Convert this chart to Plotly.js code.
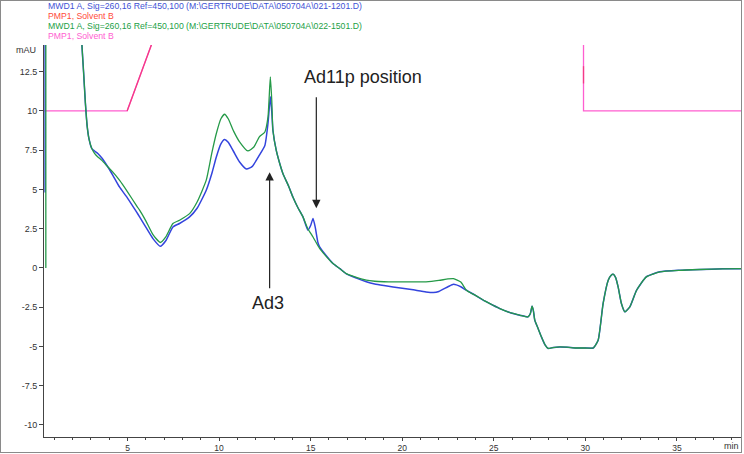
<!DOCTYPE html>
<html>
<head>
<meta charset="utf-8">
<script src="https://cdn.plot.ly/plotly-3.0.1.min.js"></script>
<style>
html,body{margin:0;padding:0;background:#fff;}
#wrap{position:relative;width:744px;height:454px;overflow:hidden;}
#chart{width:744px;height:454px;}
#frame{position:absolute;left:0;top:0;width:740px;height:451px;border:1px solid #8a8a8a;pointer-events:none;}
</style>
</head>
<body>
<div id="wrap"><div id="chart"></div><div id="frame"></div></div>
<script>
// ---- data (minutes, mAU) ----
const blueTime = [0.5,0.5,0.5,0.6,2.4,2.5,2.6,2.7,2.8,2.9,3.05,3.2,3.38,3.6,3.93,4.2,4.56,5.0,5.5,5.66,6.0,6.4,6.79,7.1,7.48,7.84,8.39,8.8,9.3,9.6,9.85,10.1,10.3,10.5,10.8,11.12,11.5,11.8,12.2,12.5,12.67,12.8,12.88,12.94,13.12,13.3,13.49,13.8,14.03,14.3,14.58,14.85,15.0,15.13,15.25,15.4,15.49,15.8,16.22,16.6,16.95,17.5,18.04,18.5,19.0,19.5,20.5,21.3,21.7,22.0,22.5,22.8,23.2,23.5,24.0,24.5,24.96,25.33,25.9,26.42,26.87,27.0,27.09,27.16,27.24,27.4,27.6,27.8,27.97,28.24,28.6,29.0,29.5,30.0,30.43,30.7,30.97,31.25,31.4,31.52,31.65,31.79,31.97,32.16,32.43,32.8,33.33,34.07,35.16,36.3,37.5,38.6];
const blueSignal = [4.8,15,30,30,30,14.5,12.5,10.5,9.0,8.2,7.6,7.45,7.29,7.0,6.43,5.9,5.16,4.45,3.55,3.25,2.6,1.85,1.38,1.75,2.61,2.83,3.25,3.8,4.95,6.0,7.07,7.9,8.18,8.0,7.4,6.75,6.3,6.45,7.18,7.8,9.2,10.9,9.9,8.77,7.5,6.7,6.0,5.2,4.52,3.85,3.25,2.4,2.7,3.15,2.6,1.6,1.34,0.85,0.28,-0.05,-0.38,-0.65,-0.88,-1.02,-1.12,-1.21,-1.38,-1.53,-1.57,-1.5,-1.2,-1.04,-1.2,-1.42,-1.75,-2.1,-2.38,-2.59,-2.85,-3.01,-3.12,-2.9,-2.44,-2.7,-3.33,-3.8,-4.39,-4.9,-5.13,-5.07,-5.03,-5.05,-5.1,-5.1,-5.1,-4.6,-2.27,-0.78,-0.48,-0.4,-0.6,-1.21,-2.27,-2.8,-2.48,-1.42,-0.57,-0.25,-0.15,-0.1,-0.06,-0.05];

const greenTime = [0.54,0.54,0.54,0.6,2.4,2.5,2.6,2.7,2.8,2.9,3.05,3.2,3.38,3.6,3.93,4.2,4.56,5.0,5.5,5.66,6.0,6.4,6.79,7.1,7.48,7.84,8.39,8.8,9.3,9.6,9.85,10.1,10.3,10.5,10.8,11.12,11.57,11.9,12.2,12.5,12.67,12.8,12.88,12.94,13.12,13.3,13.49,13.8,14.03,14.3,14.58,14.85,15.13,15.49,15.8,16.22,16.6,16.95,17.5,18.04,18.5,19.0,19.5,20.5,21.3,22.0,22.5,22.8,23.2,23.5,24.0,24.5,24.96,25.33,25.9,26.42,26.87,27.0,27.09,27.16,27.24,27.4,27.6,27.8,27.97,28.24,28.6,29.0,29.5,30.0,30.43,30.7,30.97,31.25,31.4,31.52,31.65,31.79,31.97,32.16,32.43,32.8,33.33,34.07,35.16,36.3,37.5,38.6];
const greenSignal = [0,15,30,30,30,14.5,12.5,10.5,9.0,8.2,7.6,7.3,7.07,6.85,6.43,6.1,5.59,4.85,3.95,3.68,3.0,2.1,1.62,2.0,2.83,3.04,3.46,4.2,5.59,7.3,8.56,9.5,9.79,9.5,8.7,8.03,7.45,7.7,8.35,8.66,9.6,12.17,10.6,8.77,7.5,6.7,6.0,5.2,4.52,3.85,3.25,2.5,1.97,1.24,0.8,0.28,-0.05,-0.36,-0.6,-0.78,-0.85,-0.88,-0.89,-0.89,-0.89,-0.8,-0.7,-0.68,-0.9,-1.42,-1.75,-2.1,-2.38,-2.59,-2.85,-3.01,-3.12,-2.9,-2.44,-2.7,-3.33,-3.8,-4.39,-4.9,-5.13,-5.07,-5.03,-5.05,-5.1,-5.1,-5.1,-4.6,-2.27,-0.78,-0.48,-0.4,-0.6,-1.21,-2.27,-2.8,-2.48,-1.42,-0.57,-0.25,-0.15,-0.1,-0.06,-0.05];

const pumpTime = [0.45,4.98,6.6,null,29.9,29.9,38.6];
const pumpB = [10,10,15.15,null,15,10,10];
const pumpRedTime = [4.98,6.6,null,29.9,29.9];
const pumpRedB = [10,15.15,null,12.85,11.75];

const legendLines = [
  "MWD1 A, Sig=260,16 Ref=450,100 (M:\\GERTRUDE\\DATA\\050704A\\021-1201.D)",
  "PMP1, Solvent B",
  "MWD1 A, Sig=260,16 Ref=450,100 (M:\\GERTRUDE\\DATA\\050704A\\022-1501.D)",
  "PMP1, Solvent B"
];
const legendColors = ["#3f52d6","#ff4a3a","#23a046","#ff5ed0"];
const yTicks = [-10,-7.5,-5,-2.5,0,2.5,5,7.5,10,12.5];
const xTicks = [5,10,15,20,25,30,35];

// ---- layout helpers ----
const L=44, R=3, T=45, B=17, W=744, H=454;
const pw = W-L-R, ph = H-T-B;
const px2x = p => (p-L)/pw;
const py2y = p => (H-B-p)/ph;
const FONT = "Liberation Sans, Arial, sans-serif";

const traces = [
  {x: pumpTime, y: pumpB, mode:'lines', line:{color:'#ff5ed0', width:1.3}, hoverinfo:'skip', connectgaps:false},
  {x: pumpRedTime, y: pumpRedB, mode:'lines', line:{color:'#f43a86', width:1.3}, hoverinfo:'skip', connectgaps:false},
  {x: blueTime, y: blueSignal, mode:'lines', line:{color:'#3344dd', width:1.5, shape:'spline', smoothing:0.5}},
  {x: greenTime, y: greenSignal, mode:'lines', line:{color:'#259a48', width:1.3, shape:'spline', smoothing:0.5}}
];

const annotations = [];
legendLines.forEach((t,i)=>{
  annotations.push({xref:'paper', yref:'paper', x:px2x(46), y:py2y(6+10*i), xanchor:'left', yanchor:'middle',
    text:t, showarrow:false, font:{family:FONT, size:8.7, color:legendColors[i]}});
});
annotations.push({xref:'paper', yref:'paper', x:px2x(38), y:py2y(50), xanchor:'right', yanchor:'middle',
  text:'mAU', showarrow:false, font:{family:FONT, size:9, color:'#333'}});
annotations.push({xref:'paper', yref:'paper', x:px2x(741), y:py2y(446), xanchor:'right', yanchor:'middle',
  text:'min', showarrow:false, font:{family:FONT, size:9, color:'#333'}});
// text labels
annotations.push({xref:'x', yref:'y', x:17.84, y:12.15, text:'Ad11p position', showarrow:false,
  font:{family:FONT, size:18, color:'#222'}});
annotations.push({xref:'x', yref:'y', x:12.65, y:-2.25, text:'Ad3', showarrow:false,
  font:{family:FONT, size:18, color:'#222'}});
// arrows
annotations.push({xref:'x', yref:'y', x:15.31, y:3.8, ax:0, ay:-113, text:' ', showarrow:true,
  arrowhead:2, arrowsize:1.4, arrowwidth:1.2, arrowcolor:'#222', standoff:0, startstandoff:0, font:{size:1}});
annotations.push({xref:'x', yref:'y', x:12.76, y:6.1, ax:0, ay:118, text:' ', showarrow:true,
  arrowhead:2, arrowsize:1.4, arrowwidth:1.2, arrowcolor:'#222', standoff:0, startstandoff:0, font:{size:1}});

const layout = {
  width:W, height:H,
  margin:{l:L, r:R, t:T, b:B, pad:0},
  paper_bgcolor:'#fff', plot_bgcolor:'#fff',
  showlegend:false,
  font:{family:FONT, size:9, color:'#333'},
  xaxis:{range:[0.44, 38.5], tickvals:xTicks, ticktext:xTicks.map(String), ticks:'outside', ticklen:3, tickwidth:1,
    tickcolor:'#444', showline:true, linecolor:'#444', linewidth:1, showgrid:false, zeroline:false,
    tickfont:{family:FONT, size:8.5, color:'#333'},
    minor:{dtick:1, tick0:0, ticks:'outside', ticklen:2, tickcolor:'#444', showgrid:false}},
  yaxis:{range:[-10.77, 14.2], tickvals:yTicks, ticktext:yTicks.map(String), ticks:'outside', ticklen:4, tickwidth:1,
    tickcolor:'#444', showline:true, linecolor:'#444', linewidth:1, showgrid:false, zeroline:false,
    tickfont:{family:FONT, size:9, color:'#333'}},
  annotations: annotations
};

Plotly.newPlot('chart', traces, layout, {displayModeBar:false, staticPlot:true});
</script>
</body>
</html>
